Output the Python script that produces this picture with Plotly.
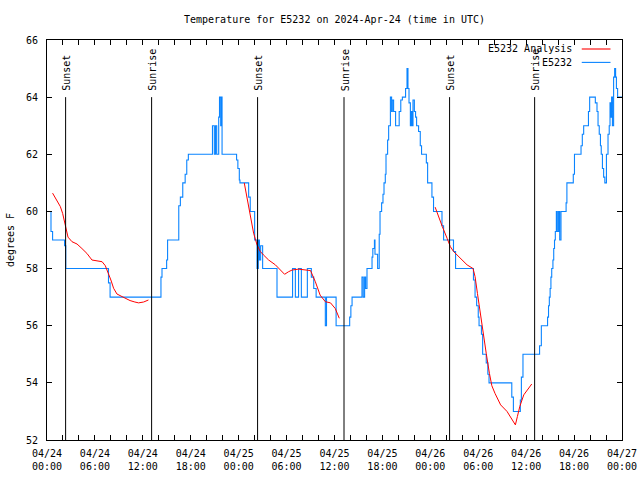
import pandas as pd
import plotly.graph_objects as go

START = pd.Timestamp("2024-04-24 00:00")

# Station observations (hours since 2024-04-24 00:00 UTC, degrees F) - step data
obs_hours = [0.0, 0.5, 0.7, 2.2, 2.35, 7.7, 7.9, 14.27, 14.4, 14.98, 15.1, 16.5, 16.7, 17.0,
             17.3, 17.5, 17.7, 20.72, 20.95, 21.1, 21.25, 21.5, 21.6, 21.75, 21.8, 21.92,
             23.74, 23.9, 24.08, 24.16, 25.25, 25.45, 26.0, 26.3, 26.46, 26.6, 26.75, 27.0,
             28.8, 30.75, 31.1, 31.5, 31.85, 32.6, 33.1, 33.4, 33.7, 34.85, 35.0, 36.2,
             37.9, 38.05, 38.2, 39.44, 39.6, 39.77, 39.9, 40.07, 40.7, 40.8, 41.0, 41.07,
             41.4, 41.6, 41.7, 41.9, 42.07, 42.2, 42.36, 42.45, 42.65, 42.78, 43.0, 43.15,
             43.24, 43.4, 43.65, 44.1, 44.3, 44.5, 44.9, 45.08, 45.2, 45.33, 45.5, 45.6,
             45.74, 45.83, 46.0, 46.15, 46.28, 46.53, 46.74, 46.9, 47.5, 47.66, 48.2, 48.4,
             49.46, 49.66, 50.9, 51.16, 53.4, 53.6, 53.8, 54.0, 54.1, 54.4, 54.55, 55.0,
             55.2, 55.35, 58.2, 58.4, 59.27, 59.4, 59.6, 61.68, 61.9, 62.68, 62.8, 62.9,
             63.0, 63.1, 63.2, 63.35, 63.45, 63.55, 63.65, 63.78, 63.9, 64.06, 64.2, 64.36,
             65.0, 65.1, 65.9, 66.05, 66.87, 67.03, 67.2, 67.8, 67.95, 68.66, 68.87, 69.0,
             69.15, 69.3, 69.4, 69.55, 69.7, 69.85, 70.05, 70.25, 70.4, 70.5, 70.6, 70.7,
             70.8, 70.95, 71.08, 71.2, 71.3, 71.45, 72.0]
obs_temps = [60, 59.3, 59, 58.8, 58, 57.5, 57, 57.7, 58, 58.3, 59, 60.2, 60.5, 61,
             61.3, 61.8, 62, 63, 62, 63, 62, 63.3, 64, 63, 64, 62,
             61.8, 61.5, 61.1, 61, 60.5, 60, 59, 58, 59, 58.3, 58.8, 58,
             57, 58, 57, 58, 57, 58, 57.7, 57.3, 57, 56, 57, 56,
             56.3, 56.7, 57, 57.7, 57, 57.7, 57.3, 58, 58.4, 58.7, 59, 58.5,
             58, 59.2, 60, 60.3, 60.6, 61, 61.3, 62, 62.5, 63, 64, 63.5,
             63.9, 63.5, 63, 63.5, 63.9, 64, 64.3, 65, 64.3, 63.8, 63, 63.5,
             63, 63.9, 63.5, 63.3, 63, 62.8, 62.3, 62, 61.7, 61, 60.5, 60,
             59.5, 59, 58.6, 58, 57.6, 57, 56.7, 56.3, 56, 55.7, 55, 54.7,
             54.3, 54, 53.5, 53, 53.4, 54.2, 55, 55.3, 56, 56.3, 56.7, 57,
             57.3, 57.7, 58, 58.3, 58.7, 59, 59.3, 60, 59.3, 60, 59, 60,
             60.3, 61, 61.3, 62, 62.3, 62.7, 63, 63.5, 64, 63.8, 63.5, 63,
             62.7, 62.3, 62, 61.5, 61.2, 61, 62, 62.7, 63, 63.8, 63.3, 64,
             63, 64.7, 65, 64.7, 64.3, 64, 64]

# Analysis (hours, degrees F); None separates the nights
ana_hours = [0.7, 1.25, 1.67, 1.96, 2.2, 2.42, 2.63, 3.13, 3.76, 4.38, 5.0, 5.63, 6.26,
             6.9, 7.3, 7.71, 8.0, 8.34, 8.76, 9.39, 10.0, 10.4, 11.0, 11.47, 12.1, 12.7,
             None,
             24.7, 25.04, 25.46, 25.87, 26.3, 26.7, 27.1, 27.75, 28.6, 29.2, 29.75, 30.25,
             30.7, 31.5, 32.35, 33.0, 33.6, 34.2, 34.85, 35.5, 36.1, 36.6,
             None,
             48.6, 49.0, 49.5, 50.1, 50.5, 50.9, 51.75, 52.6, 53.35, 53.6, 53.9, 54.25,
             54.6, 55.0, 55.4, 55.7, 56.1, 56.8, 57.6, 58.1, 58.65, 58.9, 59.2, 59.7,
             60.2, 60.7]
ana_temps = [60.64, 60.40, 60.17, 59.93, 59.6, 59.3, 59.1, 58.94, 58.86, 58.7, 58.53, 58.3,
             58.28, 58.24, 58.1, 57.84, 57.6, 57.31, 57.11, 57.02, 56.93, 56.88, 56.83,
             56.8, 56.83, 56.9,
             None,
             61.0, 60.52, 59.82, 59.24, 58.83, 58.6, 58.48, 58.3, 58.13, 57.95, 57.8, 57.89,
             57.95, 57.98, 57.95, 57.93, 57.54, 57.07, 56.84, 56.8, 56.6, 56.26,
             None,
             60.15, 59.82, 59.47, 59.06, 58.77, 58.6, 58.37, 58.13, 58.0, 57.72, 57.13, 56.43,
             55.73, 55.03, 54.33, 53.9, 53.63, 53.23, 53.0, 52.76, 52.53, 52.82, 53.17, 53.58,
             53.75, 53.96]

event_labels = ["Sunset", "Sunrise", "Sunset", "Sunrise", "Sunset", "Sunrise"]
event_hours = [2.33, 13.10, 26.37, 37.19, 50.41, 61.06]

series_names = ["E5232 Analysis", "E5232"]
series_colors = ["#ff0000", "#0a84ff"]

Y_MIN, Y_MAX, EVENT_TOP = 52, 66, 64
W, H = 640, 480


def to_time(hours):
    return [START + pd.Timedelta(hours=h) if h is not None else None for h in hours]


FONT = "DejaVu Sans Mono"
fig = go.Figure()
fig.add_trace(go.Scatter(x=to_time(obs_hours), y=obs_temps, mode="lines",
                         line=dict(color=series_colors[1], width=1.1, shape="hv"),
                         showlegend=False, hoverinfo="skip"))
fig.add_trace(go.Scatter(x=to_time(ana_hours), y=ana_temps, mode="lines",
                         line=dict(color=series_colors[0], width=1),
                         connectgaps=False, showlegend=False, hoverinfo="skip"))

for lab, h in zip(event_labels, event_hours):
    t = START + pd.Timedelta(hours=h)
    fig.add_shape(type="line", xref="x", yref="y", x0=t, x1=t, y0=Y_MIN, y1=EVENT_TOP,
                  line=dict(color="black", width=1))
    fig.add_annotation(x=t, y=EVENT_TOP, xref="x", yref="y", text=lab, textangle=-90,
                       showarrow=False, xanchor="center", yanchor="bottom", yshift=4, xshift=1,
                       font=dict(family=FONT, size=10, color="black"))

# legend (gnuplot style: text then sample line)
for i, (nm, col) in enumerate(zip(series_names, series_colors)):
    yy = 0.9775 - i * 0.0335
    fig.add_annotation(x=0.917, y=yy, xref="paper", yref="paper", text=nm, showarrow=False,
                       xanchor="right", yanchor="middle",
                       font=dict(family=FONT, size=10, color="black"))
    fig.add_shape(type="line", xref="paper", yref="paper", x0=0.930, x1=0.980, y0=yy, y1=yy,
                  line=dict(color=col, width=1.1))

fig.update_layout(
    width=W, height=H,
    margin=dict(l=47, r=18, t=40, b=40, autoexpand=False),
    paper_bgcolor="white", plot_bgcolor="white",
    font=dict(family=FONT, size=10, color="black"),
    title=dict(text="Temperature for E5232 on 2024-Apr-24 (time in UTC)",
               x=0.5, xref="paper", y=1 - 19 / H, yref="container",
               xanchor="center", yanchor="middle",
               font=dict(family=FONT, size=10, color="black")),
    showlegend=False,
)
fig.update_xaxes(
    type="date", automargin=False,
    range=[START, START + pd.Timedelta(hours=72)],
    dtick=6 * 3600 * 1000, tick0=START,
    tickformat="%m/%d<br>%H:%M",
    ticks="inside", ticklen=5, tickcolor="black", ticklabelstandoff=4,
    minor=dict(dtick=2 * 3600 * 1000, ticks="inside", ticklen=5, tickcolor="black"),
    showline=True, linecolor="black", linewidth=1, mirror="ticks",
    showgrid=False, zeroline=False,
)
fig.update_yaxes(
    automargin=False,
    range=[Y_MIN, Y_MAX], dtick=2,
    ticks="inside", ticklen=5, tickcolor="black", ticklabelstandoff=6,
    showline=True, linecolor="black", linewidth=1, mirror="ticks",
    showgrid=False, zeroline=False,
    title=dict(text="degrees F", standoff=9, font=dict(family=FONT, size=10)),
)

fig.write_html(
    "out.html",
    config={"displayModeBar": False},
    post_script="document.body.style.margin='0';document.body.style.overflow='hidden';",
)
